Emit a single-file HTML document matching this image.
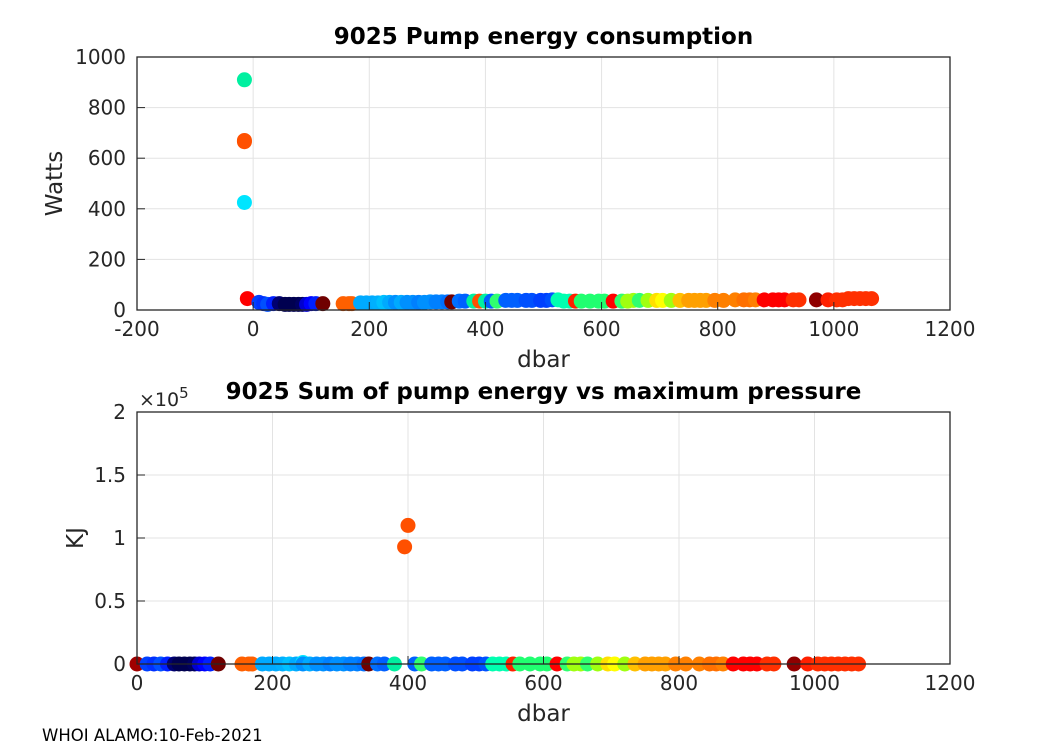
<!DOCTYPE html>
<html><head><meta charset="utf-8"><style>
body{margin:0;background:#fff;}
svg{display:block;font-family:"DejaVu Sans","Liberation Sans",sans-serif;}
</style></head><body>
<svg id="chart" width="1050" height="750" viewBox="0 0 1050 750">
<rect x="0" y="0" width="1050" height="750" fill="#fff"/>
<g id="top"></g>
<g id="bot"></g>
<text x="42" y="741" font-size="16.5" fill="#000">WHOI ALAMO:10-Feb-2021</text>
</svg>
<script>
const topP=[-15,-15,-15,-15,-10,10,18,25,35,45,55,62,70,78,85,92,100,108,120,155,165,170,185,195,205,215,225,235,245,255,265,275,285,295,305,315,325,335,342,355,365,380,390,400,410,420,435,445,455,470,480,495,505,515,525,535,545,555,565,580,595,605,620,635,645,655,665,680,695,705,720,735,750,760,770,780,795,810,830,845,855,865,880,895,905,915,930,940,970,990,1005,1015,1025,1035,1045,1055,1065];
const topW=[910,670,665,425,45,30,25,22,25,25,22,22,22,22,22,22,25,25,25,25,25,25,28,28,28,28,30,30,30,30,30,30,30,30,32,32,32,32,32,35,35,35,35,35,35,35,38,38,38,38,38,38,38,40,40,35,35,35,35,35,35,35,35,35,35,38,38,38,38,38,38,38,38,38,38,38,38,38,40,40,40,40,40,40,40,40,40,40,40,40,40,40,45,45,45,45,45];
const topC=["#00f0a0","#ff5000","#ff5000","#00e5ff","#ff0000","#0040ff","#0030ff","#0050ff","#0020ff","#000070","#000050","#000050","#000050","#000050","#000060","#0000d0","#0000ff","#0020ff","#700000","#ff6000","#ff6000","#ff6000","#00aaff","#00aaff","#00aaff","#00b0ff","#00c0ff","#00aaff","#0090ff","#00aaff","#0090ff","#0090ff","#0080ff","#0090ff","#0090ff","#0080ff","#0080ff","#0070ff","#700000","#0070ff","#0060ff","#00f0a0","#ff5000","#00f0a0","#0060ff","#30ff70","#0060ff","#0060ff","#0060ff","#0050ff","#0050ff","#0040ff","#0040ff","#0050ff","#00ffb0","#00ffb0","#00ffb0","#ff2000","#20ff70","#20ff70","#20ff70","#20ff70","#ff0000","#30ff70","#a0ff10","#a0ff10","#30ff70","#a0ff10","#ffe000","#ffff00","#a0ff10","#ffc000","#ffa000","#ffa000","#ffa000","#ffa000","#ff8000","#ff8000","#ff8000","#ff7000","#ff7000","#ff8000","#ff0000","#ff0000","#ff0000","#ff0000","#ff3000","#ff3000","#900000","#ff2000","#ff3000","#ff3000","#ff3000","#ff3000","#ff3000","#ff3000","#ff3000"];
const botP=[0,15,25,35,45,55,62,70,78,85,92,100,108,120,155,165,170,185,195,205,215,225,235,245,245,255,265,275,285,295,305,315,325,335,342,355,365,380,395,400,410,420,435,445,455,470,480,495,505,515,525,535,545,555,565,580,595,605,620,635,645,655,665,680,695,705,720,735,750,760,770,780,795,810,830,845,855,865,880,895,905,915,930,940,970,990,1005,1015,1025,1035,1045,1055,1065];
const botKJ=[0,0,0,0,0,0,0,0,0,0,0,0,0,0,0,0,0,0,0,0,0,0,0,1200,0,0,0,0,0,0,0,0,0,0,0,0,0,0,93000,110000,0,0,0,0,0,0,0,0,0,0,0,0,0,0,0,0,0,0,0,0,0,0,0,0,0,0,0,0,0,0,0,0,0,0,0,0,0,0,0,0,0,0,0,0,0,0,0,0,0,0,0,0,0];
const botC=["#a00000","#0040ff","#0030ff","#0050ff","#0020ff","#000070","#000050","#000050","#000050","#000060","#0000d0","#0000ff","#0020ff","#700000","#ff6000","#ff6000","#ff6000","#00aaff","#00aaff","#00aaff","#00b0ff","#00c0ff","#00aaff","#00e5ff","#0090ff","#00aaff","#0090ff","#0090ff","#0080ff","#0090ff","#0090ff","#0080ff","#0080ff","#0070ff","#700000","#0070ff","#0060ff","#00f0a0","#ff5000","#ff5000","#0060ff","#30ff70","#0060ff","#0060ff","#0060ff","#0050ff","#0050ff","#0040ff","#0040ff","#0050ff","#00ffb0","#00ffb0","#00ffb0","#ff2000","#20ff70","#20ff70","#20ff70","#20ff70","#ff0000","#30ff70","#a0ff10","#a0ff10","#30ff70","#a0ff10","#ffe000","#ffff00","#a0ff10","#ffc000","#ffa000","#ffa000","#ffa000","#ffa000","#ff8000","#ff8000","#ff8000","#ff7000","#ff7000","#ff8000","#ff0000","#ff0000","#ff0000","#ff0000","#ff3000","#ff3000","#900000","#ff2000","#ff3000","#ff3000","#ff3000","#ff3000","#ff3000","#ff3000","#ff3000"];
const topXTicks=[-200,0,200,400,600,800,1000,1200];
const topYTicks=[0,200,400,600,800,1000];
const botXTicks=[0,200,400,600,800,1000,1200];
const botYTicks=[0,0.5,1,1.5,2];

const NS="http://www.w3.org/2000/svg";
function mk(parent,tag,attrs,text){const e=document.createElementNS(NS,tag);for(const k in attrs)e.setAttribute(k,attrs[k]);if(text!==undefined)e.textContent=text;parent.appendChild(e);return e;}

function panel(g,o){
  const L=137,R=950,T=o.T,B=o.B;
  const sx=v=>L+(v-o.x0)/(o.x1-o.x0)*(R-L);
  const sy=v=>B-(v-o.y0)/(o.y1-o.y0)*(B-T);
  mk(g,'rect',{x:L,y:T,width:R-L,height:B-T,fill:'#fff'});
  o.xt.forEach(t=>{const l=mk(g,'line',{x1:sx(t),x2:sx(t),y1:T,y2:B,stroke:'#e3e3e3','stroke-width':1});
    
    });
  o.yt.forEach(t=>{const l=mk(g,'line',{x1:L,x2:R,y1:sy(t*o.ys),y2:sy(t*o.ys),stroke:'#e3e3e3','stroke-width':1});
    
    });
  for(let i=0;i<o.P.length;i++){
    const c=mk(g,'circle',{cx:sx(o.P[i]),cy:sy(o.V[i]),r:7.5,fill:o.C[i]});
    
    
  }
  mk(g,'rect',{x:L,y:T,width:R-L,height:B-T,fill:'none',stroke:'#262626','stroke-width':1.3});
  o.xt.forEach(t=>{
    mk(g,'line',{x1:sx(t),x2:sx(t),y1:B,y2:B-8,stroke:'#262626'});
    const tx=mk(g,'text',{x:sx(t),y:B+26,'font-size':20,'text-anchor':'middle',fill:'#262626'},String(t));
    
    
  });
  o.yt.forEach(t=>{
    mk(g,'line',{x1:L,x2:L+8,y1:sy(t*o.ys),y2:sy(t*o.ys),stroke:'#262626'});
    const tx=mk(g,'text',{x:L-11,y:sy(t*o.ys)+7,'font-size':20,'text-anchor':'end',fill:'#262626'},String(t));
    
    
  });
  const ti=mk(g,'text',{x:(L+R)/2+(o.tdx||0),y:T-13,'font-size':23,'font-weight':'bold','text-anchor':'middle',fill:'#000'},o.title);
  
  
  const xl=mk(g,'text',{x:(L+R)/2,y:B+57,'font-size':23,'text-anchor':'middle',fill:'#262626'},'dbar');
  
  
  const yl=mk(g,'text',{x:o.ylx,y:(T+B)/2,'font-size':23,'text-anchor':'middle',fill:'#262626',transform:`rotate(-90 ${o.ylx} ${(T+B)/2})`},o.ylabel);
  
  
}
panel(document.getElementById('top'),{T:57,B:310,x0:-200,x1:1200,y0:0,y1:1000,ys:1,xt:topXTicks,yt:topYTicks,P:topP,V:topW,C:topC,title:'9025 Pump energy consumption',ylabel:'Watts',ylx:62});
panel(document.getElementById('bot'),{T:412,B:664,x0:0,x1:1200,y0:0,y1:200000,ys:100000,xt:botXTicks,yt:botYTicks,P:botP,V:botKJ,C:botC,title:'9025 Sum of pump energy vs maximum pressure',ylabel:'KJ',ylx:83,tdx:0});
const ex=mk(document.getElementById('bot'),'text',{x:139,y:406,'font-size':19,fill:'#262626'},'×10');


mk(ex,'tspan',{dy:-8,'font-size':15},'5');
</script>
</body></html>
